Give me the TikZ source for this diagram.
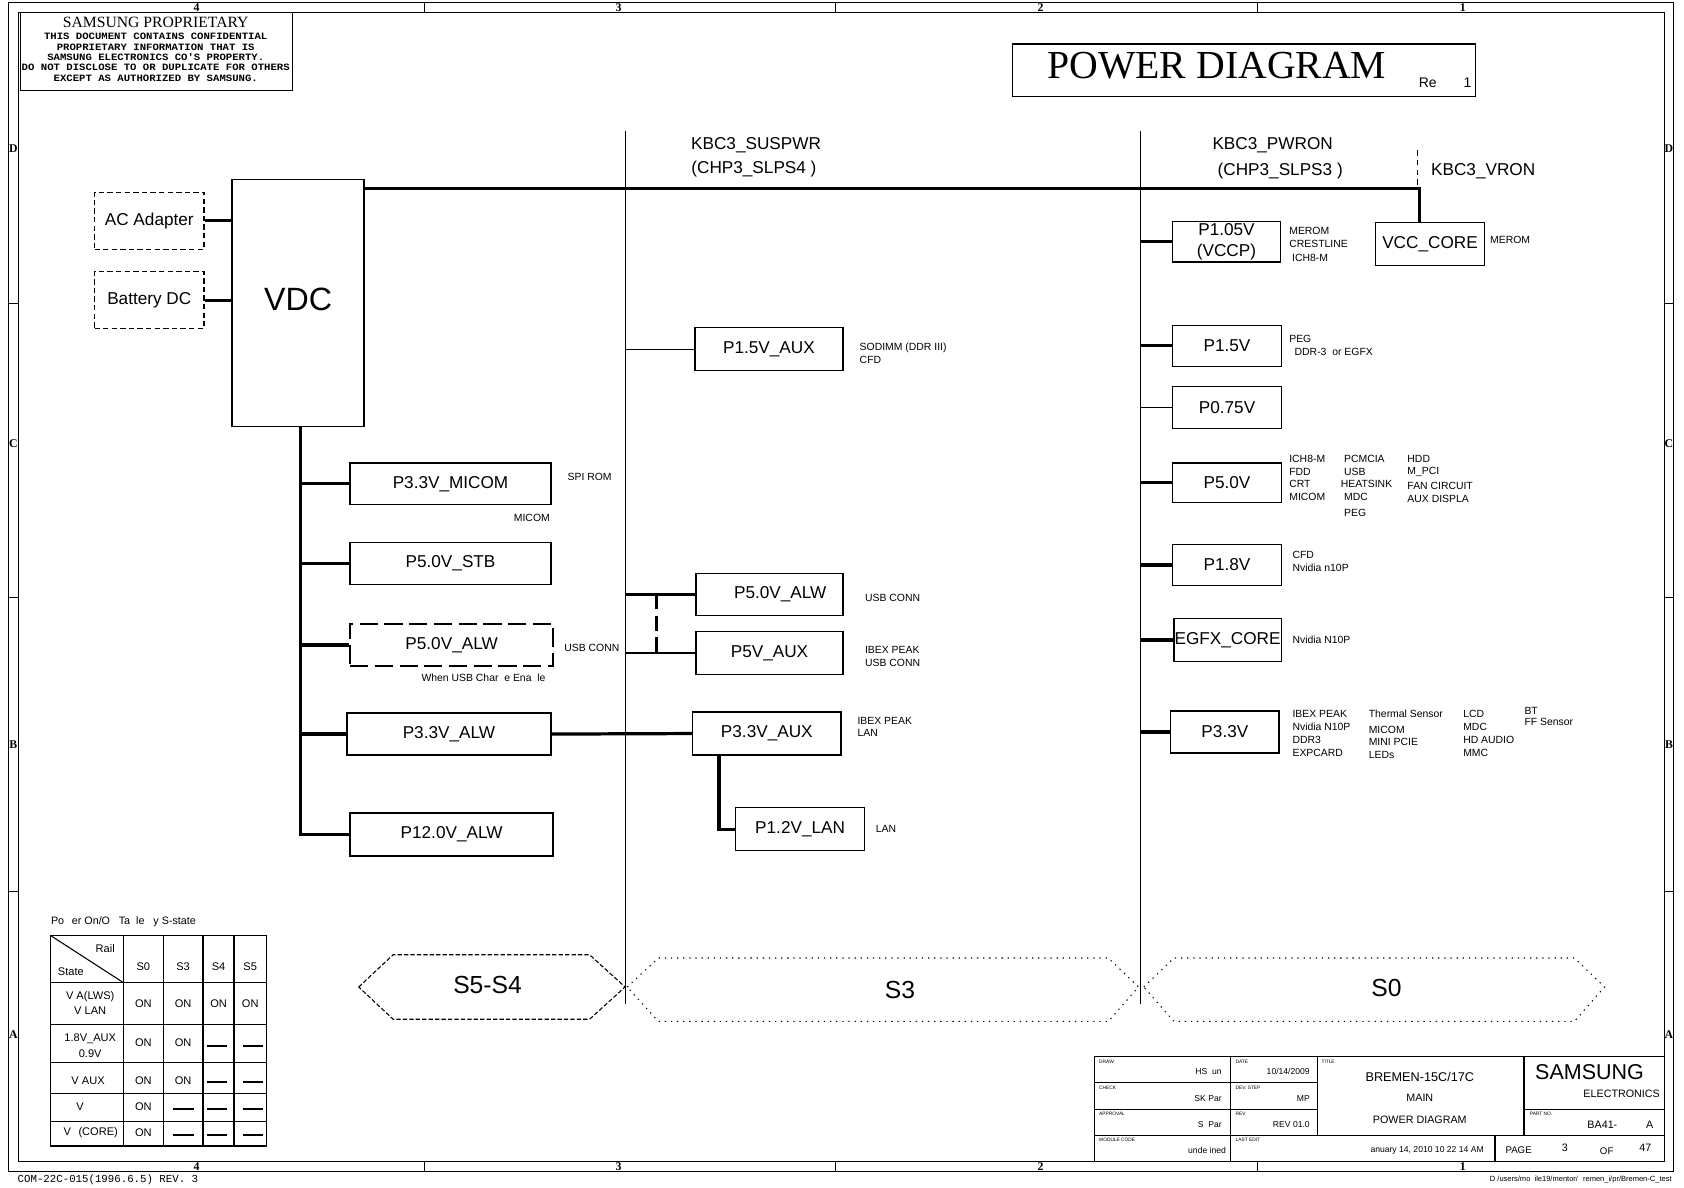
\documentclass[tikz,border=0pt]{standalone}
\usepackage{fontspec}
\setmainfont{Liberation Sans}
\newfontfamily\serifrm{Liberation Serif}
\newfontfamily\monobold[FakeStretch=1.1]{Liberation Mono}
\newfontfamily\monoplain{Liberation Mono}
\usetikzlibrary{calc}

\tikzset{every picture/.style={line width=1pt}}
\tikzset{
  railbox/.style={draw, line width=1.2pt, inner sep=0pt, align=center, font=\fontsize{16}{20}\selectfont},
  srcbox/.style={railbox, dash pattern=on 5pt off 3pt},
  altbox/.style={railbox, dash pattern=on 17pt off 6pt},
  heavy/.style={line width=3pt},
  sigtext/.style={inner sep=0pt, font=\fontsize{16}{16}\selectfont},
  note/.style={inner sep=0pt, anchor=north west, align=left, font=\fontsize{9.7}{12}\selectfont},
  cell/.style={inner sep=0pt, align=center, font=\fontsize{10.3}{14.5}\selectfont},
  offdash/.style={line width=1.5pt},
  zone/.style={inner sep=0pt, font=\serifrm\bfseries\fontsize{11}{11}\selectfont},
  blklabel/.style={inner sep=0pt, anchor=west, font=\fontsize{4.5}{5}\selectfont},
  blkvalue/.style={inner sep=0pt, anchor=east, font=\fontsize{8}{8}\selectfont},
  statetext/.style={inner sep=0pt, font=\fontsize{23}{23}\selectfont},
}

\begin{document}
\begin{tikzpicture}[x=1pt,y=1pt,yscale=-1]
\useasboundingbox (0,0) rectangle (1568,1106);

%Shape: Rectangle [sheet frame]
\draw (8,2) rectangle (1558,1091);
\draw (17,11.5) rectangle (1550,1081.5);
%Straight Lines [zone ticks]
\draw (395,2) -- (395,11.5) (778,2) -- (778,11.5) (1171,2) -- (1171,11.5);
\draw (395,1081.5) -- (395,1091) (778,1081.5) -- (778,1091) (1171,1081.5) -- (1171,1091);
\draw (8,283) -- (17,283) (8,556) -- (17,556) (8,830) -- (17,830);
\draw (1550,283) -- (1558,283) (1550,556) -- (1558,556) (1550,830) -- (1558,830);
\node[zone] (zt4) at (183,6.8) {4};
\node[zone] (zt3) at (576,6.8) {3};
\node[zone] (zt2) at (969,6.8) {2};
\node[zone] (zt1) at (1362,6.8) {1};
\node[zone] (zb4) at (183,1086.3) {4};
\node[zone] (zb3) at (576,1086.3) {3};
\node[zone] (zb2) at (969,1086.3) {2};
\node[zone] (zb1) at (1362,1086.3) {1};
\node[zone] (zld) at (12.5,138) {D};
\node[zone] (zlc) at (12.5,413) {C};
\node[zone] (zlb) at (12.5,693) {B};
\node[zone] (zla) at (12.5,963) {A};
\node[zone] (zrd) at (1554,138) {D};
\node[zone] (zrc) at (1554,413) {C};
\node[zone] (zrb) at (1554,693) {B};
\node[zone] (zra) at (1554,963) {A};

%Shape: Rectangle [proprietary note]
\draw (19,11.5) rectangle (272,84.5);
\node[inner sep=0pt, font=\serifrm\fontsize{14.6}{14.6}\selectfont] (propttl) at (145,21) {SAMSUNG PROPRIETARY};
\node[inner sep=0pt, anchor=north, align=center, font=\monobold\bfseries\fontsize{9}{9.6}\selectfont] (proptxt) at (145,30.5) {THIS DOCUMENT CONTAINS CONFIDENTIAL\\PROPRIETARY INFORMATION THAT IS\\SAMSUNG ELECTRONICS CO'S PROPERTY.\\DO NOT DISCLOSE TO OR DUPLICATE FOR OTHERS\\EXCEPT AS AUTHORIZED BY SAMSUNG.};

%Shape: Rectangle [title]
\node[draw, line width=1.2pt, minimum width=431pt, minimum height=49pt, inner sep=0pt] (titlebox) at (1158.5,65.5) {};
\node[inner sep=0pt, font=\serifrm\fontsize{37}{37}\selectfont] (titletxt) at (1133,61) {POWER DIAGRAM};
\node[inner sep=0pt, font=\fontsize{13}{13}\selectfont] (revtxt) at (1345.5,77) {Re\hspace{25pt}1};

%Signal names
\node[sigtext] (suspwr) at (704,135) {KBC3\_SUSPWR};
\node[sigtext] (slps4) at (702,157) {(CHP3\_SLPS4\ )};
\node[sigtext] (pwron) at (1185,135) {KBC3\_PWRON};
\node[sigtext] (slps3) at (1192,159) {(CHP3\_SLPS3\ )};
\node[sigtext] (vron) at (1381,159) {KBC3\_VRON};

%Straight Lines [state dividers]
\coordinate (s3top) at (582,122);
\coordinate (s3bot) at (582,935);
\coordinate (s0top) at (1062,122);
\coordinate (s0bot) at (1062,935);
\coordinate (vrontop) at (1320,140);
\draw (s3top) -- (s3bot);
\draw (s0top) -- (s0bot);

%Shape: Rectangle [sources]
\node[srcbox, minimum width=102pt, minimum height=53pt] (acad) at (139,205.5) {AC Adapter};
\node[srcbox, minimum width=102pt, minimum height=53pt] (battdc) at (139,279.5) {Battery DC};
\node[railbox, minimum width=123pt, minimum height=230pt, font=\fontsize{30}{30}\selectfont] (vdc) at (277.5,282) {\raisebox{7pt}{VDC}};

%Shape: Rectangle [S5 rails]
\node[railbox, minimum width=187pt, minimum height=39pt] (micom) at (419.5,450.5) {P3.3V\_MICOM};
\node[railbox, minimum width=187pt, minimum height=39pt] (stb) at (419.5,524.5) {P5.0V\_STB};
\node[altbox, minimum width=189pt, minimum height=39pt] (alwusb) at (420.5,600.5) {P5.0V\_ALW};
\node[railbox, minimum width=190pt, minimum height=39pt] (p33alw) at (418,683.5) {P3.3V\_ALW};
\node[railbox, minimum width=189pt, minimum height=40pt] (p12alw) at (420.5,777) {P12.0V\_ALW};

%Shape: Rectangle [S3 rails]
\node[railbox, minimum width=138pt, minimum height=40pt] (p15aux) at (716,325) {P1.5V\_AUX};
\node[railbox, minimum width=137pt, minimum height=39pt] (p50alwm) at (716.5,553.5) {\hspace{20pt}P5.0V\_ALW};
\node[railbox, minimum width=137pt, minimum height=40pt] (p5vaux) at (716.5,608) {P5V\_AUX};
\node[railbox, minimum width=138pt, minimum height=40pt] (p33aux) at (714,683) {P3.3V\_AUX};
\node[railbox, minimum width=120pt, minimum height=40pt] (p12lan) at (745,772) {P1.2V\_LAN};

%Shape: Rectangle [S0 rails]
\node[railbox, minimum width=100pt, minimum height=38pt] (p105) at (1142,225) {P1.05V\\(VCCP)};
\node[railbox, minimum width=101pt, minimum height=40pt] (vcore) at (1331.5,227) {VCC\_CORE};
\node[railbox, minimum width=101pt, minimum height=38pt] (p15) at (1142.5,322) {P1.5V};
\node[railbox, minimum width=101pt, minimum height=39pt] (p075) at (1142.5,379.5) {P0.75V};
\node[railbox, minimum width=101pt, minimum height=37pt] (p50) at (1142.5,449.5) {P5.0V};
\node[railbox, minimum width=101pt, minimum height=38pt] (p18) at (1142.5,526) {P1.8V};
\node[railbox, minimum width=100pt, minimum height=40pt] (egfx) at (1143,596) {EGFX\_CORE};
\node[railbox, minimum width=101pt, minimum height=39pt] (p33) at (1140.5,681.5) {P3.3V};

%Straight Lines [supply connections]
\coordinate (trunk) at ($(vdc.south)+(2.5,0)$);
\draw[heavy] (acad.east) -- (acad.east -| vdc.west);
\draw[heavy] (battdc.east) -- (battdc.east -| vdc.west);
\draw[heavy] ($(vdc.north east)+(0,9)$) -| ($(vcore.north)+(-10,0)$);
\draw[dash pattern=on 5pt off 4pt] (vrontop) -- ++(0,36);
\draw[heavy] (trunk) |- (p12alw.west);
\draw[heavy] (trunk |- micom.west) -- (micom.west);
\draw[heavy] (trunk |- stb.west) -- (stb.west);
\draw[heavy] (trunk |- alwusb.west) -- (alwusb.west);
\draw[heavy] (trunk |- p33alw.west) -- (p33alw.west);
\draw[heavy] (p33alw.east) -- (p33aux.west);
\draw (s3top |- p15aux.west) -- (p15aux.west);
\draw[line width=2pt] (s3top |- p50alwm.west) -- (p50alwm.west);
\draw (s3top |- p5vaux.west) -- (p5vaux.west);
\draw[heavy, dash pattern=on 14pt off 6pt] ($(s3top |- p50alwm.west)+(29,0)$) -- ($(s3top |- p5vaux.west)+(29,0)$);
\draw[heavy] ($(p33aux.south west)+(25,0)$) |- (p12lan.west);
\draw[heavy] (s0top |- p105.west) -- (p105.west);
\draw[heavy] (s0top |- p15.west) -- (p15.west);
\draw (s0top |- p075.west) -- (p075.west);
\draw[heavy] (s0top |- p50.west) -- (p50.west);
\draw[heavy] (s0top |- p18.west) -- (p18.west);
\draw[heavy] (s0top |- egfx.west) -- (egfx.west);
\draw[heavy] (s0top |- p33.west) -- (p33.west);

%Loads
\node[note] (spirom) at (528,440) {SPI ROM};
\node[note] (micomld) at (478,478) {MICOM};
\node[note] (usbc2) at (525,599) {USB CONN};
\node[note] (usbchg) at (392,627) {When USB Char\hphantom{g}e Ena\hphantom{b}le};
\node[note] (sodimm) at (800,319) {SODIMM (DDR III)\\CFD};
\node[note] (usbc1) at (805,553) {USB CONN};
\node[note] (ibex1) at (805,601) {IBEX PEAK\\USB CONN};
\node[note] (ibex2) at (798,667) {IBEX PEAK\\LAN};
\node[note] (lanld) at (815,768) {LAN};
\node[note, font=\fontsize{9.7}{12.5}\selectfont] (vccpld) at (1200,211) {MEROM\\CRESTLINE\\\ ICH8-M};
\node[note] (coreld) at (1387,219) {MEROM};
\node[note] (p15ld) at (1200,312) {PEG\\\hspace{5pt}DDR-3\ \ or EGFX};
\node[note] (p50lda) at (1200,423) {ICH8-M\\FDD\\CRT\\MICOM};
\node[note] (p50ldb) at (1251,423) {PCMCIA\\USB\\\hspace{-3pt}HEATSINK\\MDC\\[3pt]PEG};
\node[note] (p50ldc) at (1310,423) {HDD\\M\_PCI\\[2pt]FAN CIRCUIT\\AUX DISPLA};
\node[note] (p18ld) at (1203,513) {CFD\\Nvidia n10P};
\node[note] (egfxld) at (1203,592) {Nvidia N10P};
\node[note] (p33lda) at (1203,661) {IBEX PEAK\\Nvidia N10P\\DDR3\\EXPCARD};
\node[note] (p33ldb) at (1274,661) {Thermal Sensor\\[2pt]MICOM\\MINI PCIE\\LEDs};
\node[note] (p33ldc) at (1362,661) {LCD\\MDC\\HD AUDIO\\MMC};
\node[note, font=\fontsize{9.7}{10}\selectfont] (p33ldd) at (1419,658) {BT\\FF Sensor};

%Shape: Polygon [state arrows]
\draw[dash pattern=on 4pt off 2pt] (334,919) -- (366,889) -- (549,889) -- (582,919) -- (549,949) -- (366,949) -- cycle;
\draw[dash pattern=on 1.2pt off 4.5pt] (584,919) -- (613,892) -- (1032,892) -- (1060,919) -- (1032,951) -- (613,951) -- cycle;
\draw[dash pattern=on 1.2pt off 4.5pt] (1065,919) -- (1093,892) -- (1466,892) -- (1494,919) -- (1466,951) -- (1093,951) -- cycle;
\node[statetext] (s54txt) at (454,917) {S5-S4};
\node[statetext] (s3txt) at (838,922) {S3};
\node[statetext] (s0txt) at (1291,920) {S0};

%Table [power on/off]
\node[inner sep=0pt, anchor=west, font=\fontsize{10}{10}\selectfont] (tbltitle) at (47,858) {Po\hphantom{w}er On/O\hphantom{ff} Ta\hphantom{b}le \hphantom{b}y S-state};
\draw[line width=1.2pt] (47,871) rectangle (248,1067);
\draw[line width=1.2pt] (115,871) -- (115,1067) (152,871) -- (152,1067) (189,871) -- (189,1067) (218,871) -- (218,1067);
\draw[line width=1.2pt] (47,915) -- (248,915) (47,954) -- (248,954) (47,989) -- (248,989) (47,1018) -- (248,1018) (47,1044) -- (248,1044);
\draw (47,871) -- (115,915);
\node[cell] (hrail) at (98,883) {Rail};
\node[cell] (hstate) at (66,905) {State};
\node[cell] (hs0) at (133.5,900) {S0};
\node[cell] (hs3) at (170.5,900) {S3};
\node[cell] (hs4) at (203.5,900) {S4};
\node[cell] (hs5) at (233,900) {S5};
\node[cell] (r1lab) at (84,934) {V A(LWS)\\V LAN};
\node[cell] (r1s0) at (133.5,935) {ON};
\node[cell] (r1s3) at (170.5,935) {ON};
\node[cell] (r1s4) at (203.5,935) {ON};
\node[cell] (r1s5) at (233,935) {ON};
\node[cell] (r2lab) at (84,973.5) {1.8V\_AUX\\0.9V};
\node[cell] (r2s0) at (133.5,971) {ON};
\node[cell] (r2s3) at (170.5,971) {ON};
\node[cell] (r3lab) at (82,1006) {V AUX};
\node[cell] (r3s0) at (133.5,1006) {ON};
\node[cell] (r3s3) at (170.5,1006) {ON};
\node[cell] (r4lab) at (74.5,1030) {V};
\node[cell] (r4s0) at (133.5,1030) {ON};
\node[cell] (r5lab) at (84.5,1055) {V\hspace{7pt}(CORE)};
\node[cell] (r5s0) at (133.5,1055) {ON};
\draw[offdash] (193,974) -- (211,974) (226,974) -- (245,974);
\draw[offdash] (193,1007.5) -- (211,1007.5) (226,1007.5) -- (245,1007.5);
\draw[offdash] (161,1032.5) -- (181,1032.5) (193,1032.5) -- (211,1032.5) (226,1032.5) -- (245,1032.5);
\draw[offdash] (161,1057) -- (181,1057) (193,1057) -- (211,1057) (226,1057) -- (245,1057);

%Title block
\draw (1019,984) rectangle (1550,1081.5);
\draw (1019,1008) -- (1227,1008) (1019,1033) -- (1227,1033) (1019,1057) -- (1550,1057) (1419,1033) -- (1550,1033);
\draw (1146,984) -- (1146,1081.5) (1227,984) -- (1227,1057) (1419,984) -- (1419,1057) (1392,1057) -- (1392,1081.5);
\node[blklabel] (lbdraw) at (1023,988.5) {DRAW};
\node[blklabel] (lbdate) at (1150,988.5) {DATE};
\node[blklabel] (lbtitle) at (1230,988.5) {TITLE};
\node[blklabel] (lbcheck) at (1023,1012.5) {CHECK};
\node[blklabel] (lbdev) at (1150,1012.5) {DEV. STEP};
\node[blklabel] (lbappr) at (1023,1037.5) {APPROVAL};
\node[blklabel] (lbrev) at (1150,1037.5) {REV};
\node[blklabel] (lbpart) at (1424,1037.5) {PART NO.};
\node[blklabel] (lbmod) at (1023,1061.5) {MODULE CODE};
\node[blklabel] (lbedit) at (1150,1061.5) {LAST EDIT};
\node[blkvalue] (vdraw) at (1138,998) {HS\ \ un};
\node[blkvalue] (vdate) at (1220,998) {10/14/2009};
\node[blkvalue] (vcheck) at (1138,1023) {SK Par};
\node[blkvalue] (vdev) at (1220,1023) {MP};
\node[blkvalue] (vappr) at (1138,1047) {S\ \ Par};
\node[blkvalue] (vrev) at (1220,1047) {REV 01.0};
\node[blkvalue] (vmod) at (1142,1071) {unde\hphantom{f}ined};
\node[blkvalue] (vedit) at (1382,1071) {anuary 14, 2010 10\hphantom{:}22\hphantom{:}14 AM};
\node[inner sep=0pt, font=\fontsize{11.8}{11.8}\selectfont] (vproj) at (1322,1003) {BREMEN-15C/17C};
\node[inner sep=0pt, font=\fontsize{10}{10}\selectfont] (vmain) at (1322,1022) {MAIN};
\node[inner sep=0pt, font=\fontsize{10}{10}\selectfont] (vsheet) at (1322,1043) {POWER DIAGRAM};
\node[inner sep=0pt, font=\fontsize{20}{20}\selectfont] (vcomp) at (1480,998) {SAMSUNG};
\node[inner sep=0pt, anchor=east, font=\fontsize{10}{10}\selectfont] (vdiv) at (1546,1018) {ELECTRONICS};
\node[inner sep=0pt, font=\fontsize{10}{10}\selectfont] (vpart) at (1492,1047) {BA41-};
\node[inner sep=0pt, font=\fontsize{10}{10}\selectfont] (vpartr) at (1536,1047) {A};
\node[inner sep=0pt, font=\fontsize{9}{9}\selectfont] (vpage) at (1414,1071) {PAGE};
\node[inner sep=0pt, font=\fontsize{10}{10}\selectfont] (vpgno) at (1457,1069) {3};
\node[inner sep=0pt, font=\fontsize{9}{9}\selectfont] (vof) at (1496,1072) {OF};
\node[inner sep=0pt, font=\fontsize{10}{10}\selectfont] (vpgall) at (1532,1069) {47};

%Sheet footer
\node[inner sep=0pt, anchor=west, font=\monoplain\fontsize{10}{10}\selectfont] (formno) at (16,1098) {COM-22C-015(1996.6.5) REV. 3};
\node[inner sep=0pt, anchor=east, font=\fontsize{7}{7}\selectfont] (filepath) at (1557,1098) {D\hphantom{:}/users/mo\hphantom{b}ile19/mentor/\hphantom{B}remen\_i/pr/Bremen-C\_test};

\end{tikzpicture}
\end{document}
